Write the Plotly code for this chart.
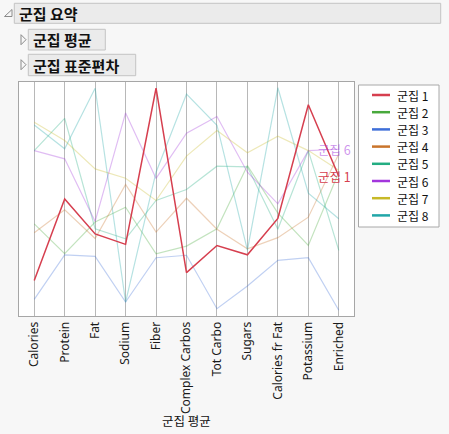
import plotly.graph_objects as go

variables = ["Calories", "Protein", "Fat", "Sodium", "Fiber", "Complex Carbos",
             "Tot Carbo", "Sugars", "Calories fr Fat", "Potassium", "Enriched"]
cluster_names = ["군집 1", "군집 2", "군집 3", "군집 4", "군집 5", "군집 6", "군집 7", "군집 8"]

# scaled cluster means (0..1 per variable)
c1 = [0.135, 0.501, 0.344, 0.297, 0.998, 0.170, 0.292, 0.250, 0.413, 0.924, 0.603]
c2 = [0.389, 0.255, 0.397, 0.464, 0.255, 0.289, 0.367, 0.651, 0.437, 0.292, 0.621]
c3 = [0.050, 0.250, 0.243, 0.038, 0.237, 0.248, 0.008, 0.110, 0.225, 0.237, 0.001]
c4 = [0.349, 0.452, 0.323, 0.566, 0.352, 0.504, 0.365, 0.277, 0.327, 0.419, 0.703]
c5 = [0.718, 0.863, 0.367, 0.322, 0.494, 0.543, 0.648, 0.645, 0.365, 0.718, 0.270]
c6 = [0.718, 0.681, 0.400, 0.887, 0.593, 0.796, 0.871, 0.621, 0.479, 0.718, 0.724]
c7 = [0.845, 0.763, 0.636, 0.594, 0.494, 0.693, 0.808, 0.708, 0.783, 0.718, 0.630]
c8 = [0.833, 0.726, 0.998, 0.038, 0.621, 0.972, 0.832, 0.271, 1.000, 0.527, 0.412]
series = [c1, c2, c3, c4, c5, c6, c7, c8]

colors = ["#d63f4f", "#48a93c", "#3f6fd8", "#c9742b", "#23ad82", "#a236dc", "#c7b927", "#21a6a8"]
highlight = [True, False, False, False, False, False, False, False]
labelled = {0: 1.0, 5: 0.55}  # cluster index -> label opacity

W, H = 449, 434
L, R, T, B = 19, 354, 82, 316


def px(x):
    return (x - L) / (R - L)


def py(y):
    return (B - y) / (B - T)


def rgba(hexc, a):
    h = hexc.lstrip("#")
    r, g, b = int(h[0:2], 16), int(h[2:4], 16), int(h[4:6], 16)
    return f"rgba({r},{g},{b},{a})"


fig = go.Figure()
order = [i for i in range(len(series)) if not highlight[i]] + [i for i in range(len(series)) if highlight[i]]
for i in order:
    fig.add_trace(go.Scatter(
        x=variables, y=series[i], mode="lines", name=cluster_names[i],
        line=dict(color=colors[i] if highlight[i] else rgba(colors[i], 0.33),
                  width=1.5 if highlight[i] else 1.2),
        showlegend=False, hoverinfo="skip"))

annotations = []
for i, op in labelled.items():
    annotations.append(dict(
        x=variables[-1], y=series[i][-1], xref="x", yref="y", text=cluster_names[i],
        showarrow=False, xanchor="center", yanchor="middle", xshift=-4,
        font=dict(family="Noto Sans CJK KR", size=12.5, color=rgba(colors[i], op))))

shapes = []
# header boxes
hdr_font = dict(family="Noto Sans CJK KR", size=15, color="#111111")
boxes = [(14.3, 3.3, 440.7, 23.3, "군집 요약", 16.5),
         (28.3, 29.3, 105.3, 50.0, "군집 평균", 31.0),
         (28.3, 54.3, 135.7, 75.7, "군집 표준편차", 31.0)]
for x0, y0, x1, y1, txt, tx in boxes:
    shapes.append(dict(type="rect", xref="paper", yref="paper",
                       x0=px(x0), x1=px(x1), y0=py(y1), y1=py(y0),
                       fillcolor="#ebebeb", line=dict(color="#c4c4c4", width=1), layer="below"))
    annotations.append(dict(x=px(tx), y=py((y0 + y1) / 2), xref="paper", yref="paper",
                            text=f"<b>{txt}</b>", showarrow=False, xanchor="left", yanchor="middle",
                            font=hdr_font))


def tri_path(pts):
    s = "M " + " L ".join(f"{px(a)},{py(b)}" for a, b in pts) + " Z"
    return s


# disclosure triangles
shapes.append(dict(type="path", xref="paper", yref="paper",
                   path=tri_path([(4.5, 16.5), (12, 9.5), (12, 16.5)]),
                   line=dict(color="#8a8a8a", width=1), fillcolor="rgba(0,0,0,0)"))
for yc in (39.7, 64.7):
    shapes.append(dict(type="path", xref="paper", yref="paper",
                       path=tri_path([(21, yc - 5), (26, yc), (21, yc + 5)]),
                       line=dict(color="#8a8a8a", width=1), fillcolor="rgba(0,0,0,0)"))

# legend box (manual)
shapes.append(dict(type="rect", xref="paper", yref="paper",
                   x0=px(358.5), x1=px(439), y0=py(227), y1=py(85),
                   fillcolor="white", line=dict(color="#a8a8a8", width=1), layer="below"))
for k, name in enumerate(cluster_names):
    yk = 95 + k * 17.2
    shapes.append(dict(type="line", xref="paper", yref="paper",
                       x0=px(372), x1=px(390), y0=py(yk), y1=py(yk),
                       line=dict(color=colors[k], width=2.5)))
    annotations.append(dict(x=px(395.5), y=py(yk), xref="paper", yref="paper", text=name,
                            showarrow=False, xanchor="left", yanchor="middle",
                            font=dict(family="Noto Sans CJK KR", size=12, color="#111111")))

# x axis title
annotations.append(dict(x=0.5, y=py(420), xref="paper", yref="paper", text="군집 평균",
                        showarrow=False, xanchor="center", yanchor="middle",
                        font=dict(family="Noto Sans CJK KR", size=12.5, color="#111111")))

fig.update_layout(
    width=W, height=H,
    margin=dict(l=L, r=W - R, t=T, b=H - B, pad=0),
    paper_bgcolor="#f7f7f7", plot_bgcolor="white",
    showlegend=False,
    shapes=shapes, annotations=annotations,
    xaxis=dict(type="category", range=[-0.5, len(variables) - 0.5], showgrid=True,
               gridcolor="#b8b8b8", gridwidth=1.2, showline=True, mirror=True,
               linecolor="#a6a6a6", linewidth=1, tickangle=-90, ticks="",
               tickfont=dict(family="Noto Sans", size=12, color="#1a1a1a"), zeroline=False,
               fixedrange=True),
    yaxis=dict(range=[-0.0247, 1.026], showgrid=False, showticklabels=False, showline=True,
               mirror=True, linecolor="#a6a6a6", linewidth=1, zeroline=False, ticks="",
               fixedrange=True),
)

fig.write_html("out.html", config={"displayModeBar": False},
               post_script="document.body.style.margin='0px';document.body.style.overflow='hidden';")
